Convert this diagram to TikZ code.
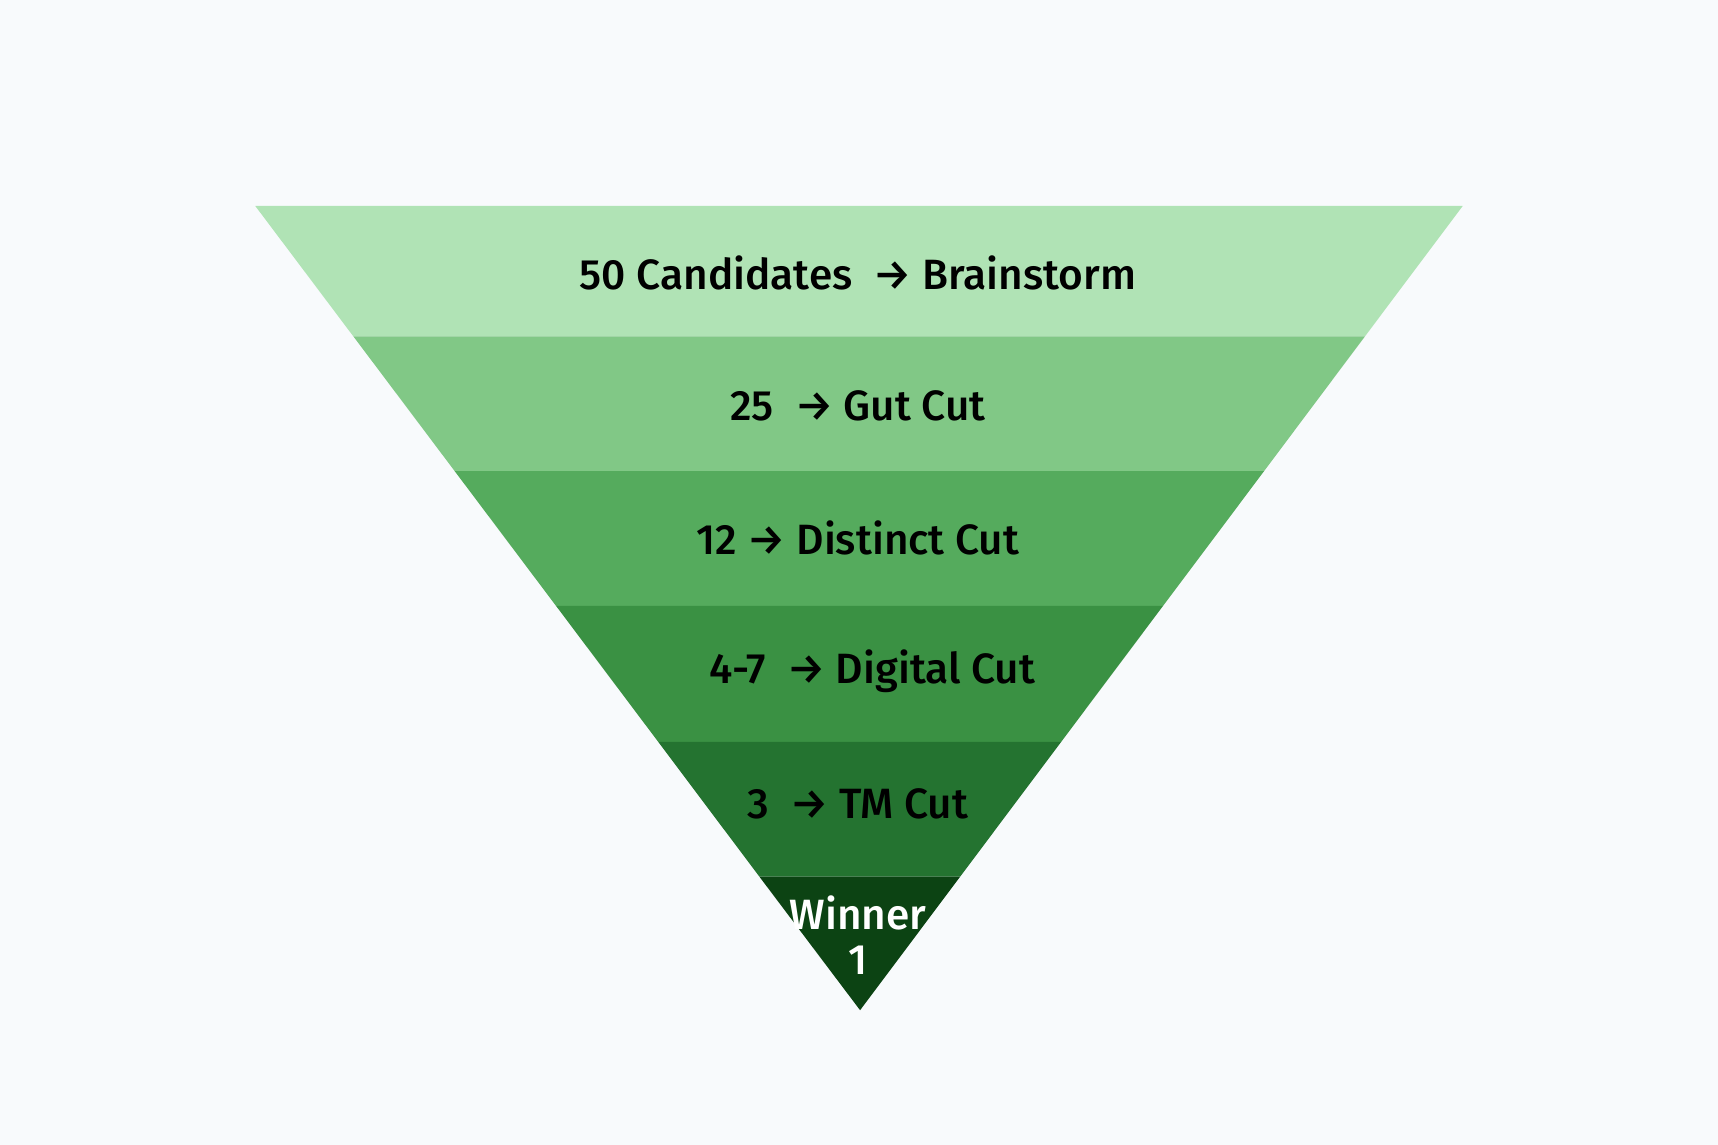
\documentclass[tikz,border=0pt]{standalone}
\usepackage{fontspec}
\setmainfont{Fira Sans Medium}
\usepackage{xcolor}
\definecolor{bggray}{HTML}{F8FAFC}
\definecolor{band1}{HTML}{B0E3B5}
\definecolor{band2}{HTML}{81C886}
\definecolor{band3}{HTML}{55AB5D}
\definecolor{band4}{HTML}{3A9143}
\definecolor{band5}{HTML}{247330}
\definecolor{band6}{HTML}{0C4313}

\begin{document}
\begin{tikzpicture}[x=0.01cm, y=-0.01cm,
label/.style={font=\fontsize{11pt}{13pt}\selectfont, text=black, inner sep=0pt, align=center}]

% background
\fill[bggray] (0,0) rectangle (1568,1045);
\useasboundingbox (0,0) rectangle (1568,1045);

% bands
\fill[band1] (233,188) -- (1335,188) -- (1245.8,307) -- (322.5,307) -- cycle;
\fill[band2] (322.5,307) -- (1245.8,307) -- (1153.7,430) -- (415,430) -- cycle;
\fill[band3] (415,430) -- (1153.7,430) -- (1061.5,553) -- (507.5,553) -- cycle;
\fill[band4] (507.5,553) -- (1061.5,553) -- (968.6,677) -- (600.7,677) -- cycle;
\fill[band5] (600.7,677) -- (968.6,677) -- (876.4,800) -- (693,800) -- cycle;
\fill[band6] (693,800) -- (876.4,800) -- (785,922) -- cycle;

% labels
\node[label] (brainstorm) at (783,249) {50 Candidates\ \ → Brainstorm};
\node[label] (gut) at (783,370) {25\ \ → Gut Cut};
\node[label] (distinct) at (783,491) {12 → Distinct Cut};
\node[label] (digital) at (796,613) {4-7\ \ → Digital Cut};
\node[label] (tm) at (783,734) {3\ \ → TM Cut};
\node[label, text=white] (winner) at (783,833) {Winner};
\node[label, text=white] (one) at (783,876) {1};

\end{tikzpicture}
\end{document}
